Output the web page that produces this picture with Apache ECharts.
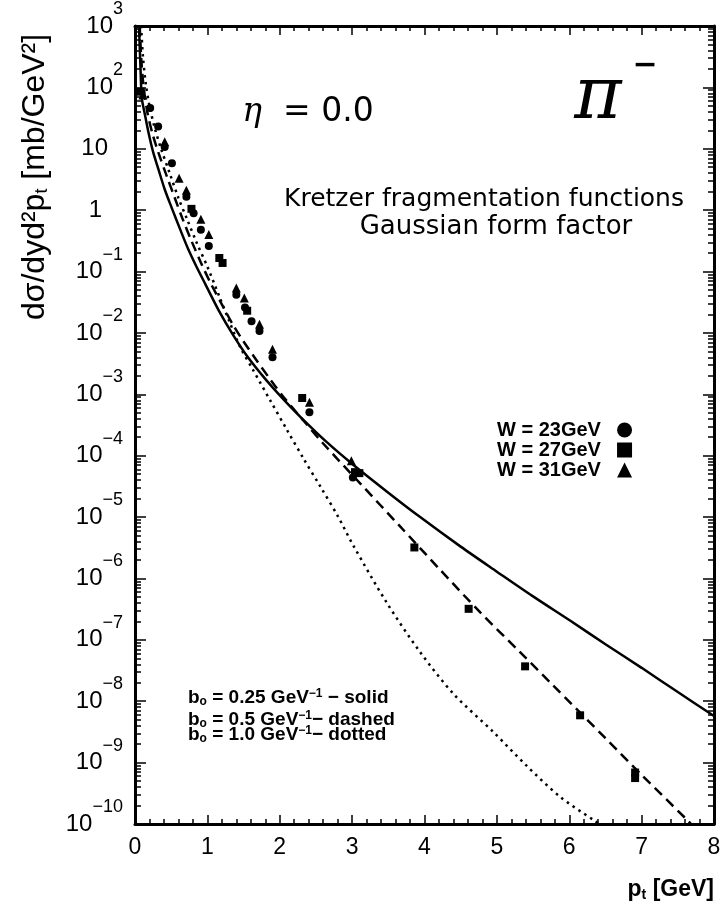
<!DOCTYPE html>
<html><head><meta charset="utf-8">
<script src="https://cdn.jsdelivr.net/npm/echarts@6/dist/echarts.min.js"></script>
<style>html,body{margin:0;padding:0;background:#fff}#c{width:724px;height:914px}</style>
</head><body><div id="c"></div>
<script>
// ---- curves (pt in GeV, cross section in mb/GeV^2) ----
const solidX = [0.055,0.075,0.095,0.138,0.184,0.25,0.32,0.41,0.51,0.62,0.73,0.85,0.97,1.16,1.35,1.55,1.75,1.91,2.1,2.33,2.65,3.01,3.5,3.94,4.5,5.0,5.5,6.0,6.5,7.0,7.5,8.0];
const solidY = [1000,224,66,35.5,19,8.9,4.8,2.19,1.07,0.50,0.24,0.12,0.063,0.0229,0.0095,0.00417,0.00209,0.00126,7.2e-4,3.8e-4,1.66e-4,7.2e-5,2.5e-5,1.0e-5,3.3e-6,1.29e-6,5.1e-7,2.1e-7,8.5e-8,3.5e-8,1.41e-8,5.75e-9];
const dashedX = [0.065,0.09,0.12,0.17,0.24,0.32,0.44,0.55,0.65,0.78,0.92,1.05,1.22,1.36,1.5,1.64,1.87,2.05,2.33,2.6,3.11,3.66,4.21,4.77,5.32,5.76,6.5,7.0,7.6,7.7];
const dashedY = [1000,251,100,39.8,17.8,8.9,3.55,1.58,0.76,0.316,0.132,0.063,0.0263,0.0132,0.00724,0.00417,0.00174,9.1e-4,3.7e-4,1.58e-4,3.55e-5,7.1e-6,1.41e-6,2.8e-7,6.3e-8,1.9e-8,2.5e-9,6.3e-10,1.26e-10,9.5e-11];
const dottedX = [0.085,0.11,0.15,0.2,0.27,0.36,0.48,0.6,0.72,0.85,1.0,1.17,1.3,1.45,1.63,1.87,2.1,2.33,2.56,2.8,3.01,3.48,3.94,4.4,4.95,5.41,5.87,6.33,6.45];
const dottedY = [1000,316,112,50,22.4,10,3.98,1.58,0.71,0.30,0.12,0.038,0.0158,0.006,0.00251,7.9e-4,2.63e-4,8.9e-5,3.16e-5,1.05e-5,3.55e-6,4.0e-7,6.3e-8,1.32e-8,3.16e-9,8.9e-10,2.8e-10,1.17e-10,9.5e-11];

// ---- data points ----
const w23X = [0.21,0.32,0.41,0.51,0.71,0.81,0.91,1.02,1.40,1.52,1.61,1.72,1.90,2.41,3.01];
const w23Y = [46,23,10.7,5.8,1.66,0.89,0.48,0.26,0.042,0.026,0.0155,0.0107,0.0040,5.1e-4,4.4e-5];
const w27X = [0.08,0.78,1.165,1.21,1.55,2.31,3.04,3.10,3.86,4.61,5.39,6.15,6.91,6.91];
const w27Y = [85,1.05,0.166,0.138,0.023,8.7e-4,5.4e-5,5.2e-5,3.2e-6,3.2e-7,3.7e-8,5.9e-9,6.9e-10,5.6e-10];
const w31X = [0.11,0.41,0.61,0.71,0.91,1.02,1.40,1.51,1.72,1.90,2.41,2.99];
const w31Y = [75,13,3.3,2.1,0.71,0.40,0.054,0.037,0.0138,0.0054,7.4e-4,8.3e-5];

const seriesNames = ['W = 23GeV','W = 27GeV','W = 31GeV'];
const xTicks = [0,1,2,3,4,5,6,7,8];
const yMajor = [1e3,1e2,1e1,1,1e-1,1e-2,1e-3,1e-4,1e-5,1e-6,1e-7,1e-8,1e-9,1e-10];
const minorMult = [2,3,4,5,6,7,8,9];

const yMinor = [];
yMajor.forEach(d => { if (d < 1e3) minorMult.forEach(m => yMinor.push(m * d)); });
const zip = (xs, ys) => xs.map((x, i) => [x, ys[i]]);
const SANS = 'Liberation Sans';
const TICK = '#000';

function yLabel(v) {
  const e = Math.round(Math.log10(v));
  if (e === 0) return '{b|1}{sp1|}';
  if (e === 1) return '{b|10}{sp2|}';
  return '{b|10}{s|' + (e < 0 ? '\u2212' : '') + Math.abs(e) + '}';
}
function xAxisOpt(pos, labels) {
  return {type:'value', position:pos, min:xTicks[0], max:xTicks[xTicks.length-1], interval:1,
    axisLine:{show:true, onZero:false, lineStyle:{color:'#000', width:3}},
    axisTick:{show:true, inside:true, interval:0, length:9, lineStyle:{color:TICK, width:1.5}},
    minorTick:{show:true, splitNumber:5, length:5, lineStyle:{color:TICK, width:1.5}},
    axisLabel:labels ? {show:true, fontFamily:SANS, fontSize:23, color:'#000', margin:12} : {show:false},
    splitLine:{show:false}, minorSplitLine:{show:false}};
}
function yAxisOpt(pos, labels, values, len, line) {
  return {type:'log', logBase:10, position:pos, offset:0, min:yMajor[yMajor.length-1], max:yMajor[0],
    axisLine:{show:line, onZero:false, lineStyle:{color:'#000', width:3}},
    axisTick:{show:true, inside:true, interval:0, length:len, lineStyle:{color:TICK, width:1.5}, customValues:values},
    minorTick:{show:false},
    axisLabel:labels ? {show:true, customValues:yMajor, formatter:yLabel, margin:12,
       rich:{
         b:{fontFamily:SANS, fontSize:24, lineHeight:52, color:'#000'},
         s:{fontFamily:SANS, fontSize:18, lineHeight:18, verticalAlign:'top', color:'#000'},
         sp1:{width:21}, sp2:{width:15}
       }} : {show:false},
    splitLine:{show:false}, minorSplitLine:{show:false}};
}
function bRich() {
  return {
    m:{fontFamily:SANS, fontWeight:'bold', fontSize:19, lineHeight:20, fill:'#000'},
    sub:{fontFamily:SANS, fontWeight:'bold', fontSize:12, lineHeight:12, verticalAlign:'bottom', fill:'#000'},
    sup:{fontFamily:SANS, fontWeight:'bold', fontSize:12, lineHeight:12, verticalAlign:'top', fill:'#000'}
  };
}

const chart = echarts.init(document.getElementById('c'), null, {renderer:'canvas'});
chart.setOption({
  backgroundColor:'#fff',
  animation:false,
  grid:{left:135, top:25, right:10, bottom:90},
  xAxis:[xAxisOpt('bottom', true), xAxisOpt('top', false)],
  yAxis:[yAxisOpt('left', true, yMajor, 11, true), yAxisOpt('right', false, yMajor, 11, true),
         yAxisOpt('left', false, yMinor, 6, false), yAxisOpt('right', false, yMinor, 6, false)],
  legend:{
    data:seriesNames, orient:'vertical', left:497, top:420, padding:0, align:'right',
    itemWidth:15, itemHeight:15, itemGap:0, selectedMode:false,
    formatter: n => n + '  ',
    textStyle:{fontFamily:SANS, fontSize:20, fontWeight:'bold', color:'#000', lineHeight:19}
  },
  series:[
    {type:'line', name:'b0 = 0.25', data:zip(solidX, solidY), showSymbol:false, symbol:'none', smooth:0.3,
     lineStyle:{color:'#000', width:2.5, type:'solid'}, z:3, silent:true},
    {type:'line', name:'b0 = 0.5', data:zip(dashedX, dashedY), showSymbol:false, symbol:'none', smooth:0.3,
     lineStyle:{color:'#000', width:2.5, type:[10,6]}, z:3, silent:true},
    {type:'line', name:'b0 = 1.0', data:zip(dottedX, dottedY), showSymbol:false, symbol:'none', smooth:0.3,
     lineStyle:{color:'#000', width:2.5, type:[2.5,4.5]}, z:3, silent:true},
    {type:'scatter', name:seriesNames[0], data:zip(w23X, w23Y), symbol:'circle', symbolSize:8, itemStyle:{color:'#000', opacity:1}, z:5},
    {type:'scatter', name:seriesNames[1], data:zip(w27X, w27Y), symbol:'rect', symbolSize:8, itemStyle:{color:'#000', opacity:1}, z:5},
    {type:'scatter', name:seriesNames[2], data:zip(w31X, w31Y), symbol:'triangle', symbolSize:9, itemStyle:{color:'#000', opacity:1}, z:5}
  ],
  graphic:[
    {type:'text', x:35, y:177, rotation:Math.PI/2,
     style:{text:'{a|d\u03c3/dyd\u00b2p}{s|t}{a| [mb/GeV\u00b2]}', align:'center', verticalAlign:'middle',
       rich:{a:{fontFamily:SANS, fontSize:32, lineHeight:32, fill:'#000'},
             s:{fontFamily:SANS, fontSize:18, lineHeight:18, verticalAlign:'bottom', fill:'#000'}}}},
    {type:'text', x:714, y:890,
     style:{text:'{a|p}{s|t}{a| [GeV]}', align:'right', verticalAlign:'middle',
       rich:{a:{fontFamily:SANS, fontWeight:'bold', fontSize:23, lineHeight:24, fill:'#000'},
             s:{fontFamily:SANS, fontWeight:'bold', fontSize:14, lineHeight:14, verticalAlign:'bottom', fill:'#000'}}}},
    {type:'text', x:308, y:112,
     style:{text:'{e|\u03b7}{n|  = 0.0}', align:'center', verticalAlign:'middle',
       rich:{e:{fontFamily:'DejaVu Serif', fontStyle:'italic', fontSize:33, fill:'#000'},
             n:{fontFamily:'DejaVu Sans', fontSize:33, fill:'#000'}}}},
    {type:'text', x:598, y:99,
     style:{text:'\u03c0', align:'center', verticalAlign:'middle', font:'italic 72px "DejaVu Serif"', fill:'#000'}},
    {type:'text', x:645, y:66,
     style:{text:'\u2212', align:'center', verticalAlign:'middle', font:'bold 30px "DejaVu Sans"', fill:'#000'}},
    {type:'text', x:484, y:199,
     style:{text:'Kretzer fragmentation functions', align:'center', verticalAlign:'middle', fontFamily:'DejaVu Sans', fontSize:25, fill:'#000'}},
    {type:'text', x:496, y:227,
     style:{text:'Gaussian form factor', align:'center', verticalAlign:'middle', fontFamily:'DejaVu Sans', fontSize:26, fill:'#000'}},
    {type:'text', x:188, y:698,
     style:{text:'{m|b}{sub|o}{m| = 0.25 GeV}{sup|\u22121}{m| \u2212 solid}', align:'left', verticalAlign:'middle', rich:bRich()}},
    {type:'text', x:188, y:720,
     style:{text:'{m|b}{sub|o}{m| = 0.5 GeV}{sup|\u22121}{m|\u2212 dashed}', align:'left', verticalAlign:'middle', rich:bRich()}},
    {type:'text', x:188, y:735,
     style:{text:'{m|b}{sub|o}{m| = 1.0 GeV}{sup|\u22121}{m|\u2212 dotted}', align:'left', verticalAlign:'middle', rich:bRich()}}
  ]
});
</script>
</body></html>
